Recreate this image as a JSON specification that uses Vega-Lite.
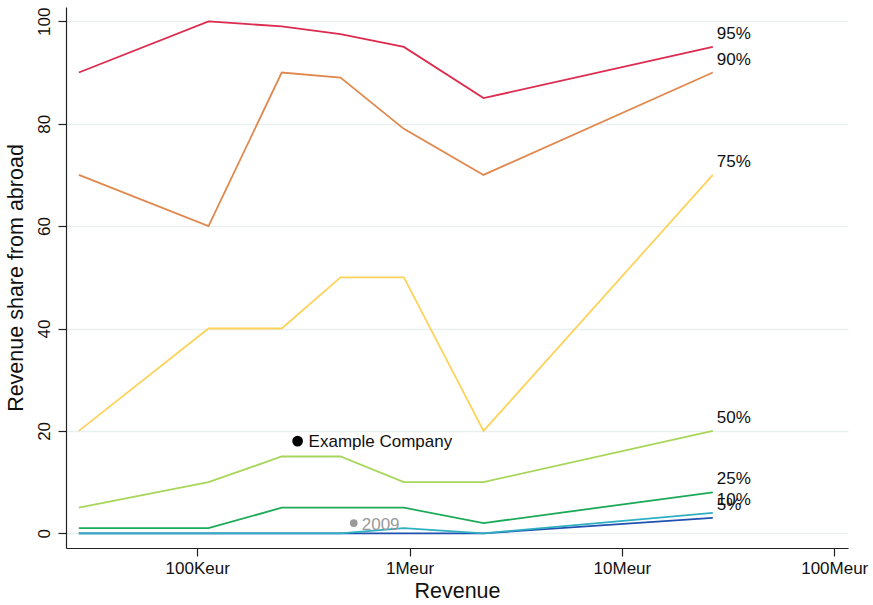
{
  "$schema": "https://vega.github.io/schema/vega-lite/v6.json",
  "width": 782,
  "height": 541,
  "autosize": {"type": "none"},
  "padding": {"left": 66, "top": 7, "right": 25, "bottom": 57},
  "background": "white",
  "config": {
    "view": {"stroke": null},
    "font": "Liberation Sans",
    "axis": {
      "labelFont": "Liberation Sans",
      "titleFont": "Liberation Sans",
      "labelColor": "#111",
      "titleColor": "#111",
      "domainColor": "#222",
      "tickColor": "#222",
      "domainWidth": 1.2,
      "tickWidth": 1.2,
      "tickSize": 8,
      "labelFontSize": 17,
      "titleFontSize": 21.5,
      "titleFontWeight": "normal"
    }
  },
  "datasets": {
    "pctl": [
      {"revenue": 27700, "share": 90, "series": "95%"},
      {"revenue": 113000, "share": 100, "series": "95%"},
      {"revenue": 250000, "share": 99, "series": "95%"},
      {"revenue": 473000, "share": 97.5, "series": "95%"},
      {"revenue": 940000, "share": 95, "series": "95%"},
      {"revenue": 2230000, "share": 85, "series": "95%"},
      {"revenue": 26800000, "share": 95, "series": "95%"},
      {"revenue": 27700, "share": 70, "series": "90%"},
      {"revenue": 113000, "share": 60, "series": "90%"},
      {"revenue": 250000, "share": 90, "series": "90%"},
      {"revenue": 473000, "share": 89, "series": "90%"},
      {"revenue": 940000, "share": 79, "series": "90%"},
      {"revenue": 2230000, "share": 70, "series": "90%"},
      {"revenue": 26800000, "share": 90, "series": "90%"},
      {"revenue": 27700, "share": 20, "series": "75%"},
      {"revenue": 113000, "share": 40, "series": "75%"},
      {"revenue": 250000, "share": 40, "series": "75%"},
      {"revenue": 473000, "share": 50, "series": "75%"},
      {"revenue": 940000, "share": 50, "series": "75%"},
      {"revenue": 2230000, "share": 20, "series": "75%"},
      {"revenue": 26800000, "share": 70, "series": "75%"},
      {"revenue": 27700, "share": 5, "series": "50%"},
      {"revenue": 113000, "share": 10, "series": "50%"},
      {"revenue": 250000, "share": 15, "series": "50%"},
      {"revenue": 473000, "share": 15, "series": "50%"},
      {"revenue": 940000, "share": 10, "series": "50%"},
      {"revenue": 2230000, "share": 10, "series": "50%"},
      {"revenue": 26800000, "share": 20, "series": "50%"},
      {"revenue": 27700, "share": 1, "series": "25%"},
      {"revenue": 113000, "share": 1, "series": "25%"},
      {"revenue": 250000, "share": 5, "series": "25%"},
      {"revenue": 473000, "share": 5, "series": "25%"},
      {"revenue": 940000, "share": 5, "series": "25%"},
      {"revenue": 2230000, "share": 2, "series": "25%"},
      {"revenue": 26800000, "share": 8, "series": "25%"},
      {"revenue": 27700, "share": 0, "series": "5%"},
      {"revenue": 113000, "share": 0, "series": "5%"},
      {"revenue": 250000, "share": 0, "series": "5%"},
      {"revenue": 473000, "share": 0, "series": "5%"},
      {"revenue": 940000, "share": 0, "series": "5%"},
      {"revenue": 2230000, "share": 0, "series": "5%"},
      {"revenue": 26800000, "share": 3, "series": "5%"},
      {"revenue": 27700, "share": 0, "series": "10%"},
      {"revenue": 113000, "share": 0, "series": "10%"},
      {"revenue": 250000, "share": 0, "series": "10%"},
      {"revenue": 473000, "share": 0, "series": "10%"},
      {"revenue": 940000, "share": 1, "series": "10%"},
      {"revenue": 2230000, "share": 0, "series": "10%"},
      {"revenue": 26800000, "share": 4, "series": "10%"}
    ],
    "company": [
      {"revenue": 297000, "share": 18, "name": "Example Company"}
    ],
    "history": [
      {"revenue": 546000, "share": 2, "name": "2009"}
    ]
  },
  "layer": [
    {
      "data": {"name": "pctl"},
      "mark": {"type": "line", "strokeWidth": 1.8, "clip": true},
      "encoding": {
        "x": {
          "field": "revenue",
          "type": "quantitative",
          "scale": {"type": "log", "domain": [24100, 116100000], "nice": false},
          "axis": {
            "title": "Revenue",
            "values": [100000, 1000000, 10000000, 100000000],
            "labelExpr": "datum.value == 100000 ? '100Keur' : datum.value == 1000000 ? '1Meur' : datum.value == 10000000 ? '10Meur' : '100Meur'",
            "grid": false,
            "labelPadding": 4,
            "titlePadding": 4
          }
        },
        "y": {
          "field": "share",
          "type": "quantitative",
          "scale": {"domain": [-2.87, 102.8], "nice": false, "zero": false},
          "axis": {
            "title": "Revenue share from abroad",
            "values": [0, 20, 40, 60, 80, 100],
            "labelAngle": 270,
            "labelPadding": 5,
            "titlePadding": 8,
            "grid": true,
            "gridColor": "#e9f0f0",
            "gridWidth": 1.5
          }
        },
        "color": {
          "field": "series",
          "type": "nominal",
          "scale": {
            "domain": ["95%", "90%", "75%", "50%", "25%", "5%", "10%"],
            "range": ["#dc2b4e", "#e0884e", "#fdd35c", "#a8d65a", "#1caa58", "#2050b0", "#2eb0c2"]
          },
          "legend": null
        },
        "order": {"field": "order_none"}
      }
    },
    {
      "data": {"name": "pctl"},
      "transform": [{"filter": "datum.revenue == 26800000"}],
      "mark": {"type": "text", "align": "left", "baseline": "middle", "dx": 4, "dy": -13, "fontSize": 17, "color": "#111"},
      "encoding": {
        "x": {"field": "revenue", "type": "quantitative"},
        "y": {"field": "share", "type": "quantitative"},
        "text": {"field": "series"}
      }
    },
    {
      "data": {"name": "company"},
      "mark": {"type": "circle", "size": 115, "color": "#000", "opacity": 1},
      "encoding": {
        "x": {"field": "revenue", "type": "quantitative"},
        "y": {"field": "share", "type": "quantitative"}
      }
    },
    {
      "data": {"name": "company"},
      "mark": {"type": "text", "align": "left", "baseline": "middle", "dx": 11, "dy": 1, "fontSize": 17, "color": "#111"},
      "encoding": {
        "x": {"field": "revenue", "type": "quantitative"},
        "y": {"field": "share", "type": "quantitative"},
        "text": {"field": "name"}
      }
    },
    {
      "data": {"name": "history"},
      "mark": {"type": "circle", "size": 60, "color": "#9a9a9a", "opacity": 1},
      "encoding": {
        "x": {"field": "revenue", "type": "quantitative"},
        "y": {"field": "share", "type": "quantitative"}
      }
    },
    {
      "data": {"name": "history"},
      "mark": {"type": "text", "align": "left", "baseline": "middle", "dx": 8, "dy": 2, "fontSize": 17, "color": "#9a9a9a"},
      "encoding": {
        "x": {"field": "revenue", "type": "quantitative"},
        "y": {"field": "share", "type": "quantitative"},
        "text": {"field": "name"}
      }
    }
  ]
}
